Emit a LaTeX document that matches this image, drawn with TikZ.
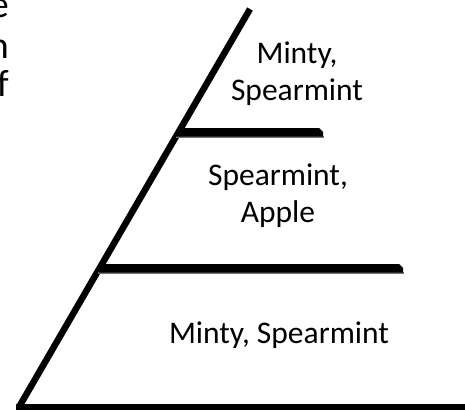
\documentclass[tikz,border=0pt]{standalone}
\usepackage{fontspec}
\setmainfont{Carlito}
\begin{document}
\begin{tikzpicture}[x=1pt,y=-1pt,
  lbl/.style={align=center,inner sep=0pt,font=\fontsize{31.5}{36.5}\selectfont},
  edgeletter/.style={inner sep=0pt,anchor=base east,font=\fontsize{38}{40}\selectfont},
  tier/.style={fill=black},
  shade/.style={fill=black!55}]
\useasboundingbox (0,0) rectangle (465,410);
% slanted side
\coordinate (apex) at (250,9);
\coordinate (foot) at (19,407);
\draw[line width=6.5pt] (apex) -- (foot);
% base line
\coordinate (bl) at (16,406.5);
\coordinate (br) at (466,406.5);
\draw[line width=6pt] (bl) -- (br);
% upper tier line
\fill[shade] (176,136) -- (324,136) -- (324,138) -- (176,138) -- cycle;
\fill[tier] (180,128) -- (319,128) -- (323,132) -- (323,136.5) -- (176,136.5) -- cycle;
% middle tier line
\fill[shade] (98,272) -- (404,272) -- (404,274) -- (98,274) -- cycle;
\fill[tier] (101,264) -- (399,264) -- (403,268) -- (403,272.5) -- (99,272.5) -- cycle;
% labels
\node[lbl,anchor=base] (t1) at (297,100) {Minty,\\Spearmint};
\node[lbl,anchor=base] (t2) at (278,222) {Spearmint,\\Apple};
\node[lbl,anchor=base] (t3) at (279,343) {Minty, Spearmint};
% clipped letters at the left edge
\node[edgeletter] (e1) at (9,17) {e};
\node[edgeletter] (e2) at (9,58) {n};
\node[edgeletter] (e3) at (9,96) {f};
\end{tikzpicture}
\end{document}
